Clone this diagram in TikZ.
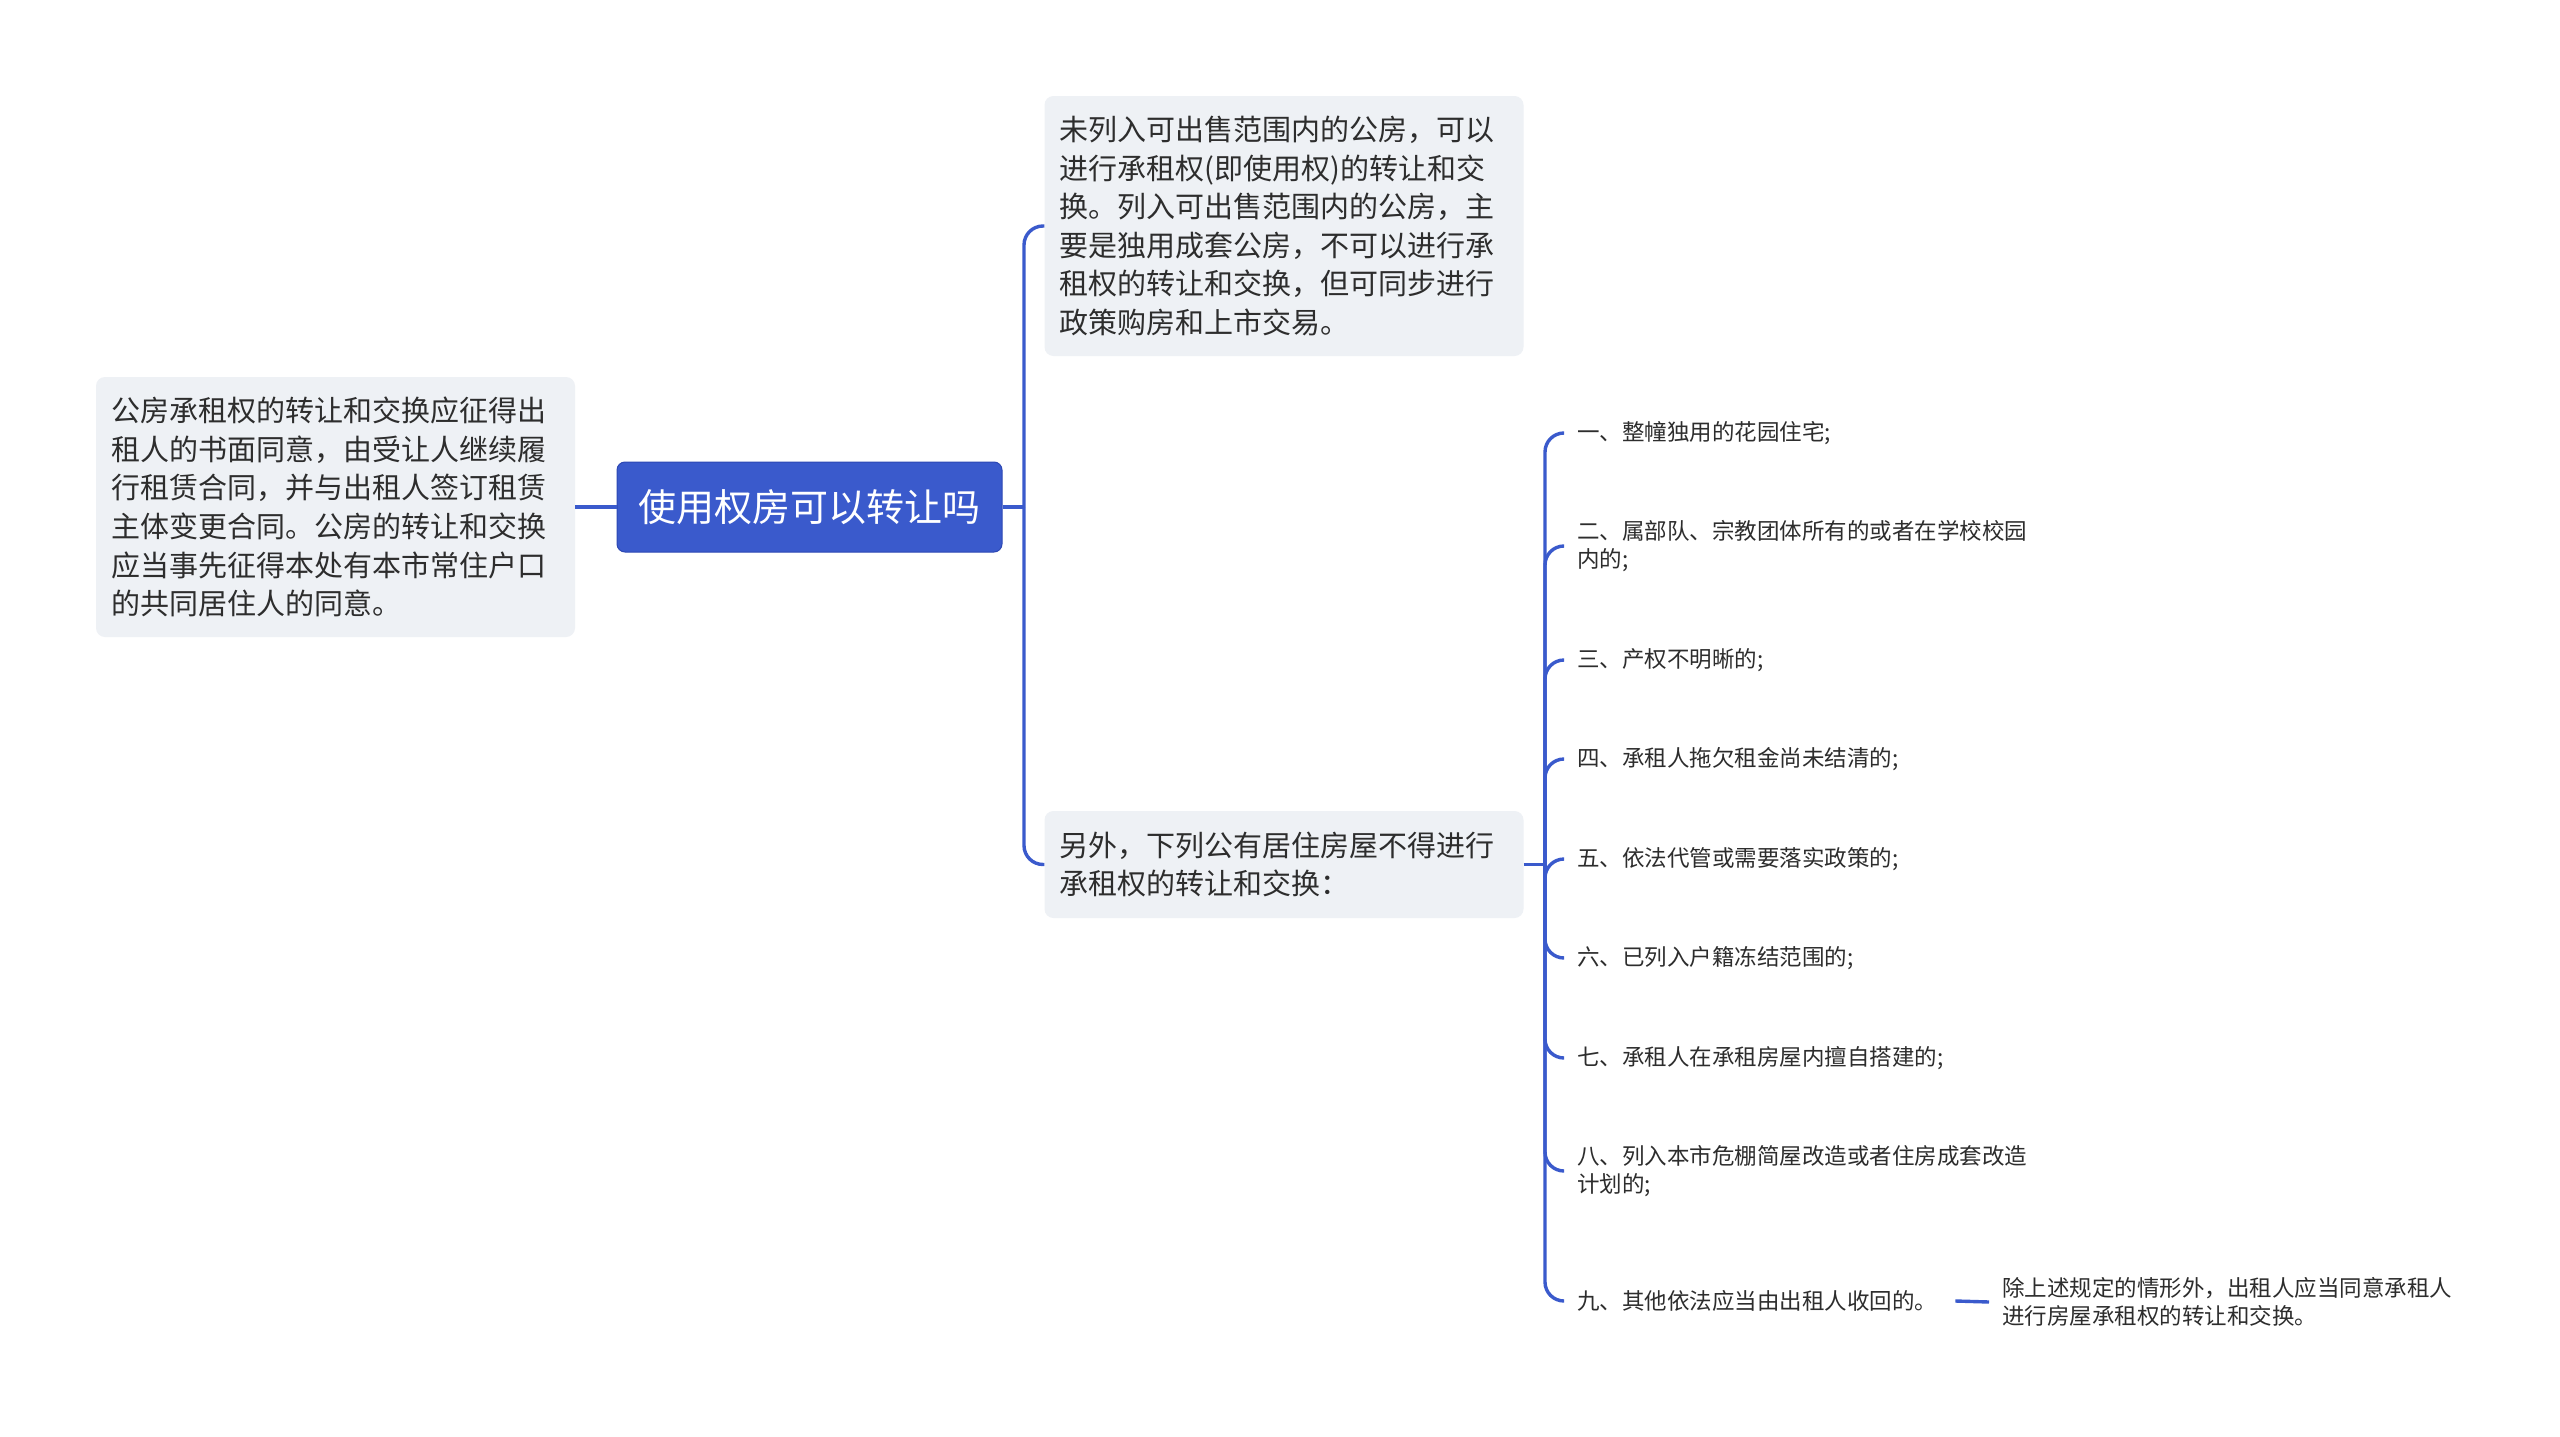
\documentclass[tikz,border=0pt]{standalone}
\usepackage{fontspec}
\setmainfont{Noto Sans CJK SC}
\definecolor{blu}{RGB}{58,90,204}
\definecolor{blubd}{RGB}{45,72,180}
\definecolor{gbox}{RGB}{238,241,245}
\definecolor{txt}{RGB}{45,45,45}
\tikzset{
  conn/.style={draw=blu, line width=3.4pt, rounded corners=19pt},
  rootbox/.style={fill=blu, draw=blubd, line width=1pt, rounded corners=8pt, text=white,
    font=\fontsize{38}{46}\selectfont, minimum width=385pt, minimum height=90pt, inner sep=0pt},
  graybox/.style={fill=gbox, rounded corners=9pt, text=txt, align=left,
    font=\fontsize{29}{38.6}\selectfont, text width=449pt, inner xsep=15pt, inner ysep=0pt},
  leafbox/.style={text=txt, align=left, anchor=west,
    font=\fontsize{22.5}{28}\selectfont, inner xsep=14pt, inner ysep=2pt},
}
\begin{document}
\begin{tikzpicture}[x=1pt,y=-1pt]
\useasboundingbox[fill=white] (0,0) rectangle (2560,1437);
% root
\node[rootbox] (root) at (809.5,507) {使用权房可以转让吗};
% left
\node[graybox, minimum height=260pt] (left) at (335.5,507) {公房承租权的转让和交换应征得出\\租人的书面同意，由受让人继续履\\行租赁合同，并与出租人签订租赁\\主体变更合同。公房的转让和交换\\应当事先征得本处有本市常住户口\\的共同居住人的同意。};
% right top
\node[graybox, minimum height=260pt] (top) at (1284,226) {未列入可出售范围内的公房，可以\\进行承租权(即使用权)的转让和交\\换。列入可出售范围内的公房，主\\要是独用成套公房，不可以进行承\\租权的转让和交换，但可同步进行\\政策购房和上市交易。};
\node[graybox, minimum height=107pt] (mid) at (1284,864.5) {另外，下列公有居住房屋不得进行\\承租权的转让和交换：};
% leaves
\node[leafbox] (l1) at (1563,433) {一、整幢独用的花园住宅;};
\node[leafbox] (l2) at (1563,546) {二、属部队、宗教团体所有的或者在学校校园\\内的;};
\node[leafbox] (l3) at (1563,660) {三、产权不明晰的;};
\node[leafbox] (l4) at (1563,759) {四、承租人拖欠租金尚未结清的;};
\node[leafbox] (l5) at (1563,859) {五、依法代管或需要落实政策的;};
\node[leafbox] (l6) at (1563,958) {六、已列入户籍冻结范围的;};
\node[leafbox] (l7) at (1563,1058) {七、承租人在承租房屋内擅自搭建的;};
\node[leafbox] (l8) at (1563,1171) {八、列入本市危棚简屋改造或者住房成套改造\\计划的;};
\node[leafbox] (l9) at (1563,1301) {九、其他依法应当由出租人收回的。};
\node[leafbox, inner xsep=13pt] (last) at (1989,1302) {除上述规定的情形外，出租人应当同意承租人\\进行房屋承租权的转让和交换。};
% connectors
\coordinate (s1) at (1024,507);
\coordinate (s2) at (1545,864.5);
\draw[conn] (root.west) -- (left.east);
\draw[conn] (root.east) -- (s1);
\draw[conn] (s1) |- (top.west);
\draw[conn] (s1) |- (mid.west);
\draw[conn] (mid.east) -- (s2);
\foreach \n in {l1,l2,l3,l4,l5,l6,l7,l8,l9}{
  \draw[conn] (s2) |- (\n.west);
}
\draw[conn] ([xshift=4pt]l9.east) -- (last.west);
\end{tikzpicture}
\end{document}
